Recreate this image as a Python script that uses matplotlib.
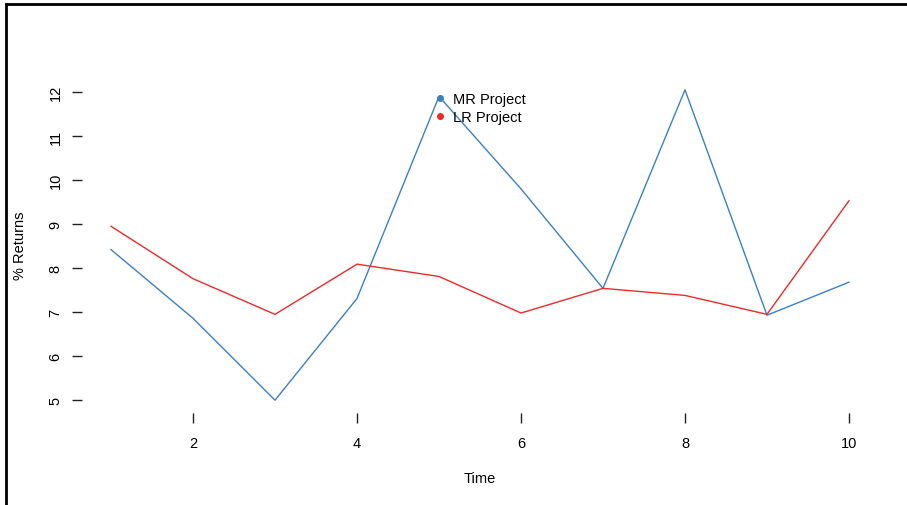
import numpy as np
import matplotlib.pyplot as plt
from matplotlib.lines import Line2D

plt.rcParams['font.family'] = ['Liberation Sans', 'DejaVu Sans']
plt.rcParams['font.size'] = 10.5

# Rendimientos por periodo para cada proyecto
time = np.arange(1, 11)
mr_project = [8.42, 6.86, 5.0, 7.31, 11.9, 9.8, 7.54, 12.05, 6.93, 7.68]
lr_project = [8.95, 7.76, 6.95, 8.09, 7.81, 6.98, 7.54, 7.38, 6.95, 9.53]

mr_color = '#3d80c4'
lr_color = '#ee2a2a'

W, H = 907, 506
fig = plt.figure(figsize=(W / 100, H / 100), dpi=100)

# area de trazado (en pixeles de la figura)
left, right, top, bottom = 81.5, 878.5, 78.5, 413.5
ax = fig.add_axes([left / W, 1 - bottom / H, (right - left) / W, (bottom - top) / H])

ax.plot(time, mr_project, color=mr_color, lw=1.0)
ax.plot(time, lr_project, color=lr_color, lw=1.0)

ax.set_xlim(0.64, 10.36)
ax.set_ylim(4.72, 12.33)
ax.set_xticks([2, 4, 6, 8, 10])
ax.set_yticks(range(5, 13))

for s in ax.spines.values():
    s.set_visible(False)
ax.tick_params(axis='both', direction='out', length=7.5, width=1, color='#222222')
ax.tick_params(axis='x', pad=9.5)
ax.tick_params(axis='y', pad=6)
for lab in ax.get_yticklabels():
    lab.set_rotation(90)
    lab.set_va('center')

ax.set_xlabel('Time', va='center')
ax.xaxis.set_label_coords(0.5, -(479 - bottom) / (bottom - top))
ax.set_ylabel('% Returns', va='center')
ax.yaxis.set_label_coords(-(left - 20) / (right - left), 0.5)

handles = [Line2D([], [], marker='o', ls='none', color=mr_color, markersize=4),
           Line2D([], [], marker='o', ls='none', color=lr_color, markersize=4)]
fig.legend(handles, ['MR Project', 'LR Project'], loc='upper left',
           bbox_to_anchor=(434 / W, 1 - 93 / H), frameon=False,
           handlelength=0.8, handletextpad=0.5, labelspacing=0.3,
           borderpad=0, borderaxespad=0)

# marco superior e izquierdo de la imagen
fig.add_artist(Line2D([6 / W, 1], [1 - 5 / H, 1 - 5 / H], color='black', lw=2))
fig.add_artist(Line2D([6 / W, 6 / W], [1 - 5 / H, 0], color='black', lw=2))

fig.savefig('out.png', dpi=100)
